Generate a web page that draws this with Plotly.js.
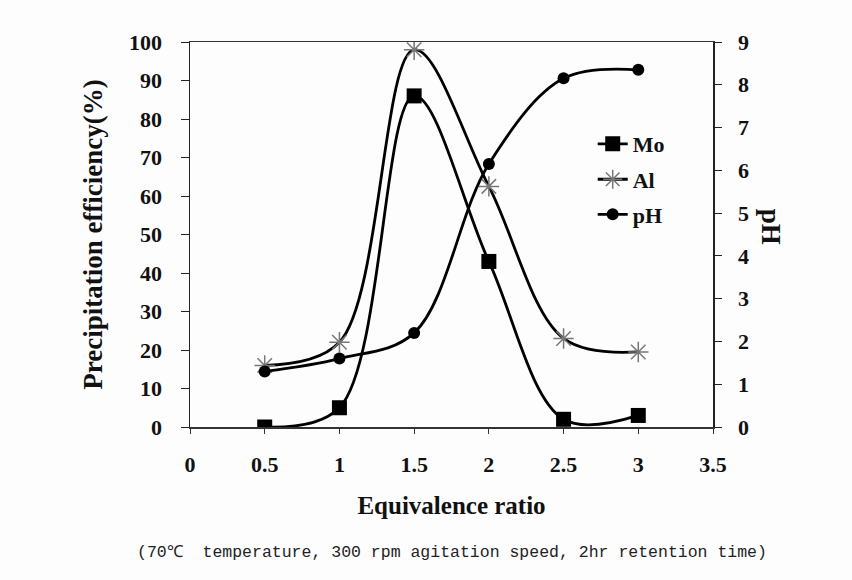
<!DOCTYPE html>
<html>
<head>
<meta charset="utf-8">
<script src="https://cdn.plot.ly/plotly-3.0.1.min.js"></script>
<style>
  html, body { margin: 0; padding: 0; background: #fdfdfd; }
  #chart { width: 852px; height: 580px; }
</style>
</head>
<body>
<div id="chart"></div>
<script>
// Equivalence ratio tested
const ratio = [0.5, 1, 1.5, 2, 2.5, 3];
// Precipitation efficiency (%)
const mo = [0, 5, 86, 43, 2, 3];
const al = [16, 22, 98, 62.5, 23, 19.5];
// Solution pH (right axis)
const ph = [1.3, 1.6, 2.2, 6.15, 8.15, 8.35];

const serif = "Liberation Serif, Times New Roman, serif";

const traces = [
  {
    x: ratio, y: mo, name: "Mo", mode: "lines+markers",
    line: { shape: "spline", smoothing: 1, color: "#000", width: 2.8 },
    marker: { symbol: "square", size: 15, color: "#000" },
    legend: "legend"
  },
  {
    x: ratio, y: al, name: "Al", mode: "lines+markers",
    line: { shape: "spline", smoothing: 1, color: "#000", width: 2.8 },
    marker: { symbol: "asterisk-open", size: 17, color: "#777",
              line: { color: "#777", width: 1.5 } },
    legend: "legend2"
  },
  {
    x: ratio, y: ph, name: "pH", mode: "lines+markers", yaxis: "y2",
    line: { shape: "spline", smoothing: 1, color: "#000", width: 2.8 },
    marker: { symbol: "circle", size: 12, color: "#000" },
    legend: "legend3"
  }
];

const tickFont = { family: serif, size: 22, color: "#111", weight: "bold" };
const legendFont = { family: serif, size: 22, color: "#111", weight: "bold" };
const legendBase = { bgcolor: "rgba(0,0,0,0)", borderwidth: 0, font: legendFont,
                     xanchor: "left", yanchor: "middle", itemwidth: 30 };

const layout = {
  width: 852, height: 580,
  paper_bgcolor: "#fdfdfd", plot_bgcolor: "#fdfdfd",
  margin: { l: 190, r: 139, t: 42, b: 153 },
  showlegend: true,
  xaxis: {
    range: [0, 3.5], dtick: 0.5, tick0: 0,
    showgrid: false, zeroline: false,
    showline: true, linecolor: "#333", linewidth: 1.5, mirror: true,
    ticks: "outside", ticklen: 5, tickcolor: "#333",
    ticklabelstandoff: 12,
    tickfont: tickFont,
    title: { text: "Equivalence ratio", standoff: 20,
             font: { family: serif, size: 25, color: "#111", weight: "bold" } }
  },
  yaxis: {
    range: [0, 100], dtick: 10,
    showgrid: false, zeroline: false,
    showline: true, linecolor: "#222", linewidth: 1.5,
    ticks: "outside", ticklen: 8, tickcolor: "#222",
    ticklabelstandoff: 14,
    tickfont: tickFont,
    title: { text: "Precipitation efficiency(%)", standoff: 18,
             font: { family: serif, size: 27, color: "#111", weight: "bold" } }
  },
  yaxis2: {
    overlaying: "y", side: "right",
    range: [0, 9], dtick: 1,
    showgrid: false, zeroline: false,
    showline: true, linecolor: "#222", linewidth: 1.5,
    ticks: "outside", ticklen: 7, tickcolor: "#222",
    ticklabelstandoff: 12,
    tickfont: tickFont
  },
  legend:  Object.assign({ x: 0.77, y: 0.735 }, legendBase),
  legend2: Object.assign({ x: 0.77, y: 0.643 }, legendBase),
  legend3: Object.assign({ x: 0.77, y: 0.552 }, legendBase),
  annotations: [
    {
      text: "pH", xref: "paper", yref: "paper", x: 1.111, y: 0.52,
      xanchor: "center", yanchor: "middle",
      showarrow: false, textangle: 90,
      font: { family: serif, size: 27, color: "#111", weight: "bold" }
    },
    {
      text: "(70\u2103  temperature, 300 rpm agitation speed, 2hr retention time)",
      xref: "paper", yref: "paper", x: 0.5, y: -0.325,
      xanchor: "center", yanchor: "middle", showarrow: false,
      font: { family: "Liberation Mono, Courier New, monospace", size: 16.5, color: "#222" }
    }
  ]
};

Plotly.newPlot("chart", traces, layout, { displayModeBar: false, staticPlot: true });
</script>
</body>
</html>
